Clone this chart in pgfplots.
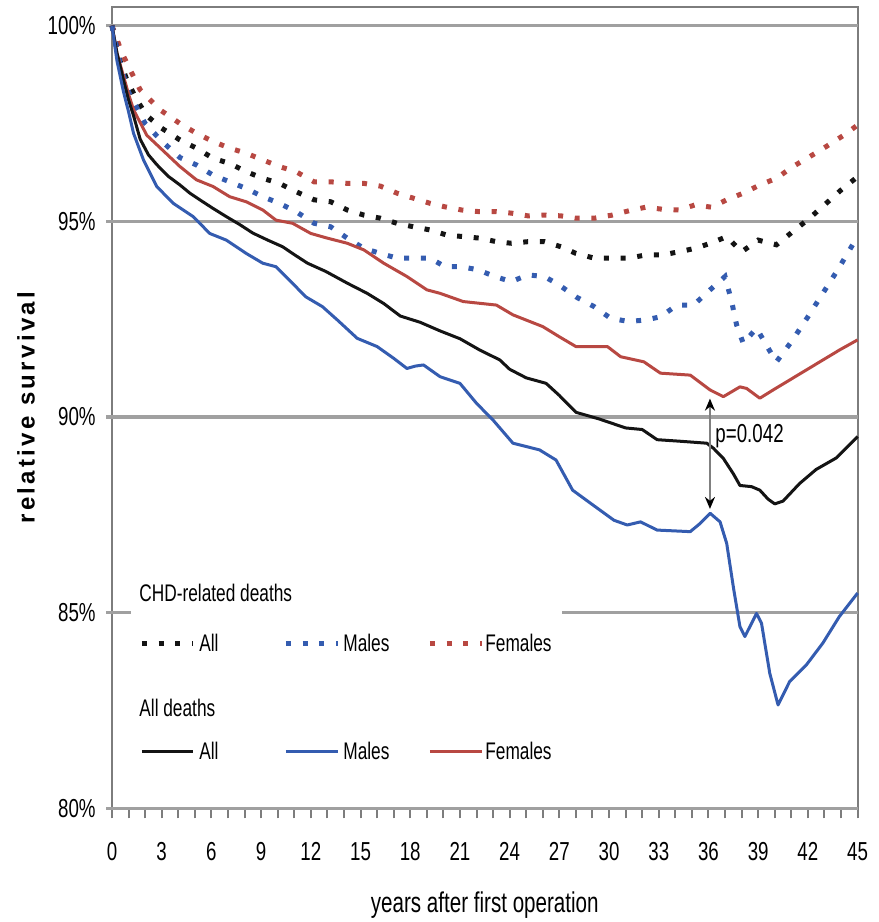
\documentclass[border=0pt]{standalone}
\usepackage{pgfplots}
\pgfplotsset{compat=1.18}
\usepackage{fontspec}
\setmainfont{Liberation Sans}[FakeStretch=0.72]
\newfontfamily\ylabfont{Liberation Sans}[LetterSpace=14]
\usetikzlibrary{arrows.meta}

\definecolor{cblack}{RGB}{20,20,20}
\definecolor{cblue}{RGB}{52,92,176}
\definecolor{cred}{RGB}{184,72,66}
\definecolor{gridc}{RGB}{160,160,160}
\definecolor{axc}{RGB}{125,125,125}

\tikzset{
  solidline/.style={line width=1.5pt, line join=round},
  dotline/.style={line width=2.5pt, dash pattern=on 2.5pt off 5.85pt},
  gridline/.style={gridc, line width=1.8pt},
}

% relative survival, all deaths
\pgfplotstableread{
x y
0 100
0.3 99.3
0.7 98.6
1.0 98.1
1.3 97.7
1.7 97.1
2.2 96.7
2.7 96.45
3.4 96.15
4.1 95.93
4.7 95.72
5.3 95.55
6.1 95.33
6.9 95.12
7.7 94.92
8.5 94.7
9.4 94.52
10.3 94.35
11.0 94.15
11.8 93.93
12.9 93.72
14.2 93.42
15.4 93.16
16.4 92.9
17.4 92.58
18.6 92.42
19.8 92.2
21.0 92.0
22.2 91.71
23.4 91.46
24.0 91.22
25.0 91.0
26.2 90.86
27.0 90.55
28.0 90.12
29.4 89.95
31.0 89.72
32.0 89.68
32.9 89.42
34.3 89.38
35.9 89.33
36.3 89.2
36.9 88.94
37.5 88.55
37.9 88.25
38.6 88.22
39.1 88.13
39.6 87.9
40.0 87.78
40.5 87.85
41.5 88.3
42.5 88.66
43.7 88.95
45 89.5
}\allAll
\pgfplotstableread{
x y
0 100
0.3 99.1
0.7 98.3
1.0 97.8
1.3 97.25
1.9 96.57
2.7 95.89
3.7 95.46
4.9 95.12
5.9 94.69
6.9 94.52
8.1 94.18
9.1 93.93
9.9 93.84
10.7 93.5
11.7 93.07
12.7 92.82
13.6 92.48
14.8 92.01
16.0 91.8
17.0 91.5
17.8 91.24
18.3 91.3
18.8 91.33
19.8 91.03
21.0 90.86
22.0 90.35
23.0 89.92
24.2 89.33
25.8 89.16
26.8 88.9
27.8 88.13
28.9 87.79
30.3 87.36
31.1 87.24
31.9 87.32
32.9 87.11
34.9 87.07
35.5 87.28
36.1 87.54
36.7 87.32
37.1 86.77
37.5 85.66
37.9 84.64
38.2 84.39
38.9 84.98
39.2 84.73
39.7 83.45
40.2 82.64
40.9 83.24
41.9 83.66
42.9 84.22
43.9 84.9
45 85.5
}\allMales
\pgfplotstableread{
x y
0 100
0.3 99.3
0.7 98.7
1.0 98.25
1.3 97.85
2.1 97.2
3.1 96.8
4.1 96.4
5.1 96.06
6.1 95.89
7.1 95.63
8.1 95.5
9.1 95.29
9.9 95.03
10.9 94.95
12.0 94.69
13.0 94.57
14.2 94.44
15.2 94.27
16.4 93.93
17.8 93.59
19.0 93.25
19.8 93.16
21.2 92.95
23.2 92.86
24.2 92.61
26.0 92.31
27.0 92.05
28.0 91.8
29.9 91.8
30.7 91.54
32.1 91.41
33.1 91.12
34.9 91.07
36.1 90.69
36.9 90.52
37.9 90.77
38.3 90.73
39.1 90.48
39.9 90.69
41.9 91.2
43.9 91.71
45 91.97
}\allFemales
% relative survival, CHD-related deaths
\pgfplotstableread{
x y
0 100
0.4 99.2
0.9 98.61
1.5 98.1
2.1 97.7
3.0 97.38
4.1 97.08
5.1 96.87
6.1 96.61
7.1 96.48
8.1 96.27
9.1 96.1
10.1 95.97
11.1 95.76
12.2 95.55
13.2 95.5
14.2 95.29
15.2 95.16
16.2 95.08
17.2 94.95
18.2 94.86
19.2 94.78
20.2 94.65
21.2 94.61
22.2 94.57
23.2 94.48
24.1 94.44
25.1 94.48
26.1 94.48
27.1 94.35
28.0 94.18
29.1 94.06
30.2 94.06
31.2 94.06
32.2 94.14
33.2 94.14
34.2 94.22
35.2 94.31
36.2 94.45
37.1 94.61
38.0 94.22
39.0 94.52
40.1 94.4
41.1 94.74
42.1 95.08
43.0 95.42
44.0 95.8
45 96.14
}\chdAll
\pgfplotstableread{
x y
0 100
0.5 99.0
1.0 98.3
2.0 97.5
3.0 97.05
4.1 96.63
5.1 96.44
6.1 96.18
7.1 96.01
8.1 95.84
9.1 95.63
10.1 95.46
11.1 95.25
12.2 94.95
13.2 94.86
14.2 94.57
15.2 94.31
16.2 94.18
17.2 94.06
18.2 94.06
19.2 94.06
20.1 93.84
21.1 93.84
22.1 93.76
23.1 93.59
24.1 93.46
25.1 93.63
26.1 93.59
27.0 93.37
28.0 93.07
29.1 92.82
30.1 92.52
31.2 92.44
32.2 92.48
33.1 92.56
34.1 92.86
35.1 92.86
36.1 93.25
37.0 93.59
37.4 92.95
37.7 92.35
38.1 91.88
38.9 92.27
39.6 91.76
40.1 91.41
41.0 91.92
42.0 92.56
42.9 93.16
43.8 93.76
44.7 94.4
45 94.58
}\chdMales
\pgfplotstableread{
x y
0 100
0.6 99.3
1.1 98.87
1.7 98.36
2.9 97.85
4.1 97.5
5.1 97.25
6.1 97.04
7.1 96.87
8.1 96.74
9.1 96.57
10.1 96.4
11.1 96.27
12.2 96.01
13.2 96.01
14.2 95.97
15.2 95.97
16.2 95.9
17.2 95.72
18.2 95.59
19.2 95.46
20.1 95.37
21.1 95.29
22.1 95.25
23.1 95.25
24.1 95.21
25.1 95.14
26.1 95.16
27.1 95.14
28.0 95.08
29.1 95.08
30.2 95.16
31.2 95.27
32.2 95.36
33.2 95.31
34.2 95.29
35.2 95.42
36.2 95.36
37.1 95.55
38.1 95.72
39.1 95.93
40.1 96.1
41.1 96.4
42.1 96.65
43.1 96.91
44.2 97.21
45 97.46
}\chdFemales

\begin{document}
\begin{tikzpicture}
\path[use as bounding box] (-56pt,-56.85pt) rectangle (383.5pt,404.15pt);
\begin{axis}[
  anchor=south west, at={(0pt,0pt)},
  scale only axis,
  width=372.8pt, height=400.7pt,
  xmin=0, xmax=45, ymin=80, ymax=100.48,
  clip=false,
  axis line style={axc, line width=1pt},
  tick align=outside,
  xtick={0,3,...,45},
  xticklabels={0,3,6,9,12,15,18,21,24,27,30,33,36,39,42,45},
  minor x tick num=2,
  major tick length=5pt, minor tick length=5pt,
  xtick style={axc, line width=1pt},
  minor tick style={axc, line width=1pt},
  xtick pos=bottom,
  ytick={80,85,90,95,100},
  yticklabels={80\%,85\%,90\%,95\%,100\%},
  ytick style={draw=none},
  ytick pos=left,
  tick label style={font=\fontsize{13}{15}\selectfont, inner sep=0pt},
  xticklabel style={anchor=north, yshift=-12pt},
  yticklabel style={anchor=east, xshift=-3pt},
  xlabel={years after first operation},
  xlabel style={font=\fontsize{14.3}{16}\selectfont, at={(axis description cs:0.5,-0.121)}, anchor=center},
  ylabel={\ylabfont\bfseries relative survival},
  ylabel style={font=\fontsize{12}{14}\selectfont, at={(axis description cs:-0.1153,0.5)}, anchor=center},
]
% horizontal reference lines
\draw[gridline] (axis cs:-0.36,100) -- (axis cs:45,100);
\draw[gridline] (axis cs:-0.36,95) -- (axis cs:45,95);
\draw[gridline] (axis cs:-0.36,90) -- (axis cs:45,90);
\draw[gridline] (axis cs:-0.36,85) -- (axis cs:1.15,85);
\draw[gridline] (axis cs:27.16,85) -- (axis cs:45,85);
\draw[gridline] (axis cs:-0.36,80) -- (axis cs:45,80);

% CHD-related deaths
\addplot[dotline, cred] table[x=x,y=y] {\chdFemales};
\addplot[dotline, cblack] table[x=x,y=y] {\chdAll};
\addplot[dotline, cblue] table[x=x,y=y] {\chdMales};
% all deaths
\addplot[solidline, cred] table[x=x,y=y] {\allFemales};
\addplot[solidline, cblack] table[x=x,y=y] {\allAll};
\addplot[solidline, cblue] table[x=x,y=y] {\allMales};

% males vs females at 36 years
\draw[gray, line width=1pt, {Stealth[color=black, length=6pt, width=5pt]}-{Stealth[color=black, length=6pt, width=5pt]}]
  (axis cs:36.09,90.47) -- (axis cs:36.09,87.65);
\node[anchor=west, inner sep=0pt, font=\fontsize{13}{15}\selectfont] at (axis cs:36.4,89.5) {p=0.042};

% key
\begin{scope}[every node/.style={anchor=west, inner sep=0pt, font=\fontsize{12}{14}\selectfont}]
\node at (axis cs:1.63,85.5) {CHD-related deaths};
\draw[dotline, cblack] (axis cs:1.81,84.22) -- (axis cs:4.89,84.22);
\node at (axis cs:5.25,84.22) {All};
\draw[dotline, cblue] (axis cs:10.5,84.22) -- (axis cs:13.64,84.22);
\node at (axis cs:13.94,84.22) {Males};
\draw[dotline, cred] (axis cs:19.19,84.22) -- (axis cs:22.33,84.22);
\node at (axis cs:22.51,84.22) {Females};
\node at (axis cs:1.63,82.56) {All deaths};
\draw[solidline, cblack] (axis cs:1.81,81.46) -- (axis cs:4.89,81.46);
\node at (axis cs:5.25,81.46) {All};
\draw[solidline, cblue] (axis cs:10.5,81.46) -- (axis cs:13.64,81.46);
\node at (axis cs:13.94,81.46) {Males};
\draw[solidline, cred] (axis cs:19.19,81.46) -- (axis cs:22.33,81.46);
\node at (axis cs:22.51,81.46) {Females};
\end{scope}
\end{axis}
\end{tikzpicture}
\end{document}
